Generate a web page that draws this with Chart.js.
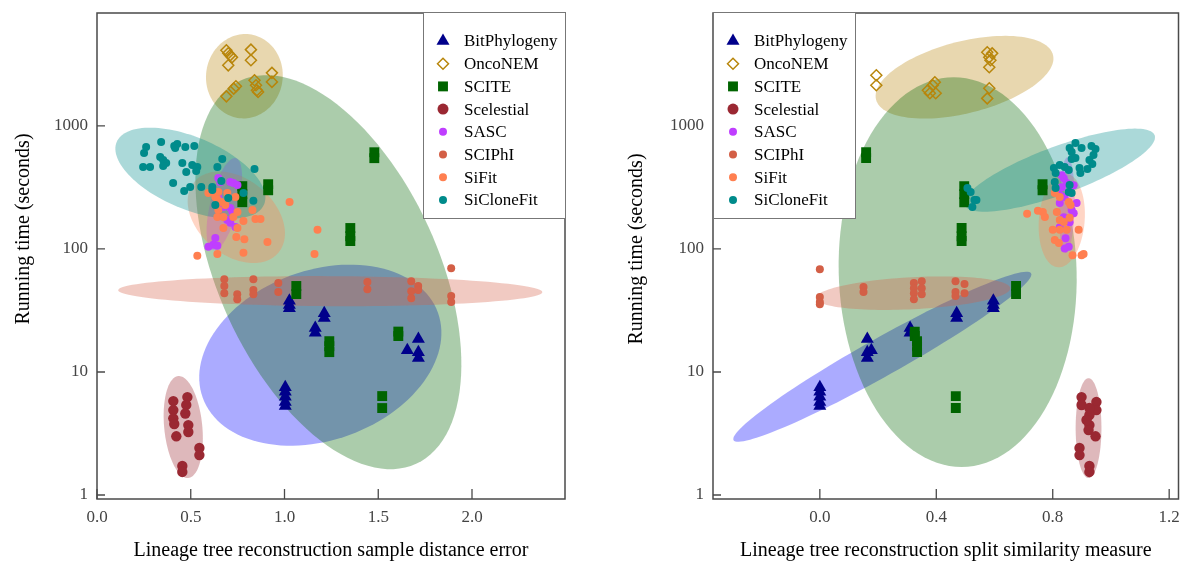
<!DOCTYPE html>
<html>
<head>
<meta charset="utf-8">
<script src="https://cdn.jsdelivr.net/npm/chart.js@4.4.0/dist/chart.umd.min.js"></script>
<style>
  body { margin: 0; background: #fff; }
  .panel { position: absolute; top: 0; width: 593px; height: 563px; }
</style>
</head>
<body>
<div class="panel" style="left:0"><canvas id="dist"></canvas></div>
<div class="panel" style="left:593px"><canvas id="split"></canvas></div>
<script>
const methods = ["BitPhylogeny", "OncoNEM", "SCITE", "Scelestial", "SASC", "SCIPhI", "SiFit", "SiCloneFit"];
const colors = ["#00008B", "#B8860B", "#006400", "#9A2832", "#BF3EFF", "#D35F46", "#FF7F50", "#008B8B"];
const shadeColors = ["#0000FF", "#B8860B", "#006400", "#9A2832", "#BF3EFF", "#D35F46", "#FF7F50", "#008B8B"];
const shapes = ["triangle", "rectRot", "rect", "circle", "circle", "circle", "circle", "circle"];

const yTicks = [1, 10, 100, 1000];
const distTicks = [0, 0.5, 1, 1.5, 2];
const splitTicks = [0, 0.4, 0.8, 1.2];

// left panel: sample distance error vs running time
const distBitPhylogeny = [[1.026,38],[1.026,35],[1.026,33],[1.212,30],[1.212,27.5],[1.164,22.8],[1.164,20.8],[1.004,7.5],[1.004,6.9],[1.004,6.3],[1.004,5.7],[1.004,5.3],[1.655,15],[1.714,18.5],[1.714,14.5],[1.714,13]];
const distOncoNEM = [[0.69,4120],[0.70,3900],[0.71,3750],[0.72,3610],[0.70,3110],[0.821,4170],[0.821,3420],[0.933,2700],[0.933,2280],[0.84,2350],[0.848,2140],[0.853,1950],[0.859,1890],[0.741,2100],[0.729,2010],[0.69,1740]];
const distSCITE = [[1.479,611],[1.479,547],[0.913,336],[0.913,300],[0.775,324],[0.775,279],[0.775,240],[1.351,148],[1.351,127],[1.351,116],[1.063,50],[1.063,43],[1.239,17.8],[1.239,16.2],[1.239,14.5],[1.607,21.3],[1.607,19.6],[1.521,6.37],[1.521,5.09]];
const distScelestial = [[0.407,5.8],[0.407,4.9],[0.407,4.2],[0.412,3.78],[0.423,3.0],[0.482,6.25],[0.476,5.4],[0.471,4.6],[0.487,3.7],[0.487,3.25],[0.546,2.41],[0.546,2.11],[0.455,1.72],[0.455,1.54]];
const distSASC = [[0.647,378],[0.658,351],[0.711,351],[0.727,344],[0.749,331],[0.642,275],[0.647,260],[0.674,219],[0.711,215],[0.722,200],[0.695,172],[0.711,163],[0.738,151],[0.631,123],[0.62,108],[0.594,104],[0.642,106]];
const distSCIPhI = [[0.679,56.8],[0.679,49.9],[0.679,43.7],[0.748,42.9],[0.748,39.1],[0.834,56.8],[0.834,46.3],[0.834,42.9],[0.967,52.8],[0.967,44.6],[1.442,53.8],[1.442,47.1],[1.676,54.7],[1.676,45.4],[1.676,39.8],[1.713,49.9],[1.713,46.3],[1.889,69.8],[1.889,41.4],[1.889,37]];
const distSiFit = [[0.594,285],[0.631,265],[0.647,290],[0.695,285],[0.738,265],[0.642,252],[0.663,241],[0.684,228],[0.647,207],[0.642,182],[0.674,182],[0.727,182],[0.749,200],[0.781,169],[0.674,148],[0.749,148],[0.743,125],[0.786,120],[0.829,207],[0.845,175],[0.872,175],[0.909,114],[1.027,241],[1.176,143],[1.16,91],[0.535,88],[0.642,91],[0.781,93]];
const distSiCloneFit = [[0.262,675],[0.251,603],[0.342,741],[0.412,688],[0.428,714],[0.417,662],[0.471,675],[0.519,688],[0.246,464],[0.283,464],[0.337,560],[0.353,529],[0.369,500],[0.353,473],[0.455,500],[0.476,423],[0.508,482],[0.535,464],[0.529,431],[0.406,344],[0.465,296],[0.497,319],[0.556,319],[0.615,319],[0.615,302],[0.642,464],[0.668,538],[0.663,357],[0.70,260],[0.631,228],[0.781,285],[0.84,447],[0.834,246]];

// right panel: split similarity vs running time
const splitBitPhylogeny = [[0,7.5],[0,6.9],[0,6.3],[0,5.7],[0,5.3],[0.163,18.5],[0.163,14.5],[0.163,13],[0.177,15],[0.31,22.8],[0.31,20.8],[0.47,30],[0.47,27.5],[0.596,38],[0.596,35],[0.596,33]];
const splitOncoNEM = [[0.194,2580],[0.194,2140],[0.371,1950],[0.378,1845],[0.395,2265],[0.388,2140],[0.398,1845],[0.575,3970],[0.582,3615],[0.586,3420],[0.582,3000],[0.592,3890],[0.582,2025],[0.575,1675]];
const splitSCITE = [[0.159,611],[0.159,547],[0.496,324],[0.496,279],[0.496,240],[0.765,336],[0.765,300],[0.487,148],[0.487,127],[0.487,116],[0.674,50],[0.674,43],[0.326,21.3],[0.326,19.6],[0.334,17.8],[0.334,16.2],[0.334,14.5],[0.467,6.37],[0.467,5.09]];
const splitScelestial = [[0.899,6.25],[0.899,5.39],[0.95,5.7],[0.95,4.9],[0.926,4.47],[0.926,3.7],[0.923,3.37],[0.947,3.0],[0.892,2.41],[0.892,2.11],[0.926,1.72],[0.926,1.54],[0.926,5.1],[0.916,4.07]];
const splitSASC = [[0.838,376],[0.848,343],[0.872,330],[0.831,318],[0.824,274],[0.841,264],[0.882,236],[0.824,236],[0.865,207],[0.872,195],[0.838,181],[0.858,165],[0.824,150],[0.844,122],[0.855,104],[0.841,101],[0.831,398]];
const splitSCIPhI = [[0,68.5],[0,40.6],[0,37],[0,35.6],[0.15,49],[0.15,44.6],[0.323,52.8],[0.323,48],[0.323,43.7],[0.323,39.1],[0.35,54.7],[0.35,48],[0.35,42.9],[0.466,54.7],[0.466,44.6],[0.466,41.4],[0.497,51.8],[0.497,43.7]];
const splitSiFit = [[0.712,193],[0.749,204],[0.766,200],[0.773,182],[0.807,285],[0.824,265],[0.855,241],[0.861,228],[0.814,200],[0.858,179],[0.824,172],[0.838,166],[0.80,143],[0.824,143],[0.848,143],[0.889,143],[0.807,118],[0.821,112],[0.868,89],[0.899,89],[0.906,91]];
const splitSiCloneFit = [[0.858,662],[0.878,728],[0.899,662],[0.865,615],[0.933,688],[0.947,650],[0.94,581],[0.926,529],[0.936,491],[0.919,447],[0.892,456],[0.895,415],[0.865,539],[0.878,550],[0.824,482],[0.841,464],[0.855,439],[0.804,456],[0.81,415],[0.807,351],[0.81,313],[0.858,331],[0.855,290],[0.865,285],[0.507,313],[0.518,290],[0.531,250],[0.524,219],[0.538,250]];

// spread ellipses per method: centre x, centre y, then two semi-axes as (dx, d log10 y)
const distEllipses = [
  [1.191, 13.7, 0.627, 0.347, 0.155, -0.649],
  [0.786, 2535, 0.027, 0.341, 0.203, -0.037],
  [1.234, 64.8, 0.468, -1.558, -0.533, -0.372],
  [0.460, 3.57, -0.027, 0.414, 0.101, 0.016],
  [0.679, 231, 0.061, 0.374, 0.0725, -0.028],
  [1.244, 45.4, 1.131, -0.008, 0, 0.122],
  [0.743, 181, 0.2245, -0.2876, -0.130, -0.236],
  [0.498, 413, 0.393, -0.254, -0.075, -0.269]
];
const splitEllipses = [
  [0.2146, 13.3, 0.511, 0.678, 0.0315, -0.1349],
  [0.497, 2489, 0.304, 0.181, 0.0296, -0.2835],
  [0.4734, 64.8, -0.0136, 1.584, 0.4087, 0],
  [0.923, 3.5, 0, 0.406, 0.0443, 0],
  [0.848, 227, 0.003, 0.39, 0.027, 0],
  [0.320, 43.7, 0.334, 0.0406, 0.0027, -0.130],
  [0.831, 171, 0.0136, 0.382, 0.0783, -0.0162],
  [0.824, 437, 0.326, 0.2835, 0.0279, -0.1836]
];

const pointSizes = [7.5, 5.5, 7, 5.2, 4, 4, 4, 4];
const legendSizes = [7.5, 5.5, 7, 5.5, 4, 4, 4, 4];

Chart.defaults.font.family = '"Liberation Serif", "DejaVu Serif", serif';
Chart.defaults.color = "#444";

function shade(hex, a) {
  const n = parseInt(hex.slice(1), 16);
  return `rgba(${n >> 16}, ${(n >> 8) & 255}, ${n & 255}, ${a})`;
}

function makeChart(id, sets, ellipses, xMin, xMax, xTicks, xTitle, axisWidth, padRight, legendSide, yTitleAt) {
  const ellipsePlugin = {
    id: "ellipses",
    beforeDatasetsDraw(chart) {
      const { ctx, chartArea: a, scales: { x, y } } = chart;
      ctx.save();
      ctx.beginPath();
      ctx.rect(a.left, a.top, a.width, a.height);
      ctx.clip();
      ellipses.forEach((e, i) => {
        const [cx, cy, ux, uy, vx, vy] = e;
        const lc = Math.log10(cy);
        ctx.beginPath();
        for (let k = 0; k <= 120; k++) {
          const t = (k / 120) * 2 * Math.PI;
          const px = x.getPixelForValue(cx + ux * Math.cos(t) + vx * Math.sin(t));
          const py = y.getPixelForValue(Math.pow(10, lc + uy * Math.cos(t) + vy * Math.sin(t)));
          if (k) ctx.lineTo(px, py); else ctx.moveTo(px, py);
        }
        ctx.closePath();
        ctx.fillStyle = shade(shadeColors[i], 0.33);
        ctx.fill();
      });
      ctx.restore();
    }
  };

  const framePlugin = {
    id: "frame",
    afterDraw(chart) {
      const { ctx, chartArea: a, scales: { x, y } } = chart;
      ctx.save();
      ctx.strokeStyle = "#4a4a4a";
      ctx.lineWidth = 1.5;
      ctx.strokeRect(a.left, a.top, a.width, a.height);
      ctx.lineWidth = 1.3;
      ctx.beginPath();
      x.ticks.forEach(t => {
        const px = x.getPixelForValue(t.value);
        ctx.moveTo(px, a.bottom);
        ctx.lineTo(px, a.bottom - 10);
      });
      y.ticks.forEach(t => {
        const py = y.getPixelForValue(t.value);
        ctx.moveTo(a.left, py);
        ctx.lineTo(a.left + 8, py);
      });
      ctx.stroke();

      // legend box
      const w = 142, h = 206;
      const left = legendSide === "right" ? a.right - w : a.left;
      const top = a.top - 1;
      ctx.fillStyle = "#fff";
      ctx.fillRect(left, top, w, h);
      ctx.strokeStyle = "#777";
      ctx.lineWidth = 1;
      ctx.strokeRect(left + 0.5, top + 0.5, w, h);
      ctx.font = '17px "Liberation Serif"';
      ctx.textBaseline = "middle";
      methods.forEach((m, i) => {
        const ly = top + 29 + i * 22.7;
        ctx.fillStyle = i === 1 ? "rgba(0,0,0,0)" : colors[i];
        ctx.strokeStyle = colors[i];
        ctx.lineWidth = 1.5;
        Chart.helpers.drawPoint(ctx, {
          pointStyle: shapes[i], radius: legendSizes[i], borderWidth: i === 1 ? 1.5 : 0
        }, left + 20, ly);
        ctx.fillStyle = "#000";
        ctx.fillText(m, left + 41, ly + 1);
      });

      // y axis title
      ctx.translate(yTitleAt[0], yTitleAt[1]);
      ctx.rotate(-Math.PI / 2);
      ctx.font = '20px "Liberation Serif"';
      ctx.textAlign = "center";
      ctx.fillStyle = "#000";
      ctx.fillText("Running time (seconds)", 0, 0);
      ctx.restore();
    }
  };

  return new Chart(document.getElementById(id), {
    type: "scatter",
    data: {
      datasets: sets.map((pts, i) => ({
        label: methods[i],
        data: pts.map(([px, py]) => ({ x: px, y: py })),
        pointStyle: shapes[i],
        pointRadius: pointSizes[i],
        pointHoverRadius: pointSizes[i],
        backgroundColor: i === 1 ? "rgba(0,0,0,0)" : colors[i],
        borderColor: colors[i],
        borderWidth: i === 1 ? 1.5 : 0,
        order: methods.length - i
      }))
    },
    options: {
      responsive: true,
      maintainAspectRatio: false,
      animation: false,
      layout: { padding: { top: 13, right: padRight, left: 0, bottom: 0 } },
      plugins: { legend: { display: false }, tooltip: { enabled: false } },
      scales: {
        x: {
          type: "linear",
          min: xMin,
          max: xMax,
          bounds: "data",
          grid: { display: false, drawTicks: false },
          border: { display: false },
          afterBuildTicks: s => { s.ticks = xTicks.map(v => ({ value: v })); },
          afterFit: s => { s.height = 64; s.paddingLeft = 0; s.paddingRight = 0; },
          ticks: {
            autoSkip: false, maxRotation: 0, padding: 8,
            font: { size: 17 },
            callback: v => v.toFixed(1)
          },
          title: {
            display: true, text: xTitle, color: "#000",
            font: { size: 20 }, padding: { top: 0, bottom: 0 }
          }
        },
        y: {
          type: "logarithmic",
          min: 0.928,
          max: 8280,
          bounds: "data",
          grid: { display: false, drawTicks: false },
          border: { display: false },
          afterBuildTicks: s => { s.ticks = yTicks.map(v => ({ value: v })); },
          afterFit: s => { s.width = axisWidth; s.paddingTop = 0; s.paddingBottom = 0; },
          ticks: {
            autoSkip: false, padding: 9,
            font: { size: 17 },
            callback: v => String(v)
          }
        }
      }
    },
    plugins: [ellipsePlugin, framePlugin]
  });
}

makeChart("dist",
  [distBitPhylogeny, distOncoNEM, distSCITE, distScelestial, distSASC, distSCIPhI, distSiFit, distSiCloneFit],
  distEllipses, 0, 2.496, distTicks,
  "Lineage tree reconstruction sample distance error", 97, 28, "right", [24, 229]);

makeChart("split",
  [splitBitPhylogeny, splitOncoNEM, splitSCITE, splitScelestial, splitSASC, splitSCIPhI, splitSiFit, splitSiCloneFit],
  splitEllipses, -0.367, 1.232, splitTicks,
  "Lineage tree reconstruction split similarity measure", 120, 3, "left", [44, 249]);
</script>
</body>
</html>
